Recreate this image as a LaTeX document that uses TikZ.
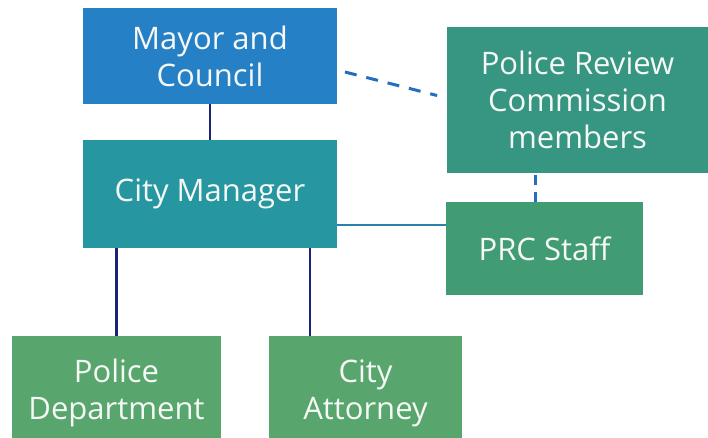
\documentclass[tikz,border=0pt]{standalone}
\usepackage{fontspec}
\setmainfont{Open Sans}
\begin{document}
\definecolor{mayorblue}{RGB}{38,128,198}
\definecolor{managerteal}{RGB}{38,150,160}
\definecolor{prcteal}{RGB}{55,150,130}
\definecolor{staffgreen}{RGB}{65,155,115}
\definecolor{deptgreen}{RGB}{88,166,110}
\definecolor{linknavy}{RGB}{25,35,120}
\definecolor{linkblue}{RGB}{35,110,190}
\definecolor{linkteal}{RGB}{40,130,170}
\definecolor{boxtext}{RGB}{245,248,245}
\begin{tikzpicture}[x=1pt,y=-1pt,
  orgbox/.style={rectangle, inner sep=0pt, text=boxtext, align=center,
    font=\fontsize{31}{37}\selectfont},
  solidlink/.style={draw=linknavy, line width=2.5pt},
  dashlink/.style={draw=linkblue, line width=3pt, dash pattern=on 12pt off 10pt}]
\useasboundingbox (0,0) rectangle (708,437);
\clip (0,0) rectangle (708,437);

\node[orgbox, fill=mayorblue, minimum width=254pt, minimum height=96pt]
  (mayor) at (210,56) {Mayor and\\Council};
\node[orgbox, fill=managerteal, minimum width=254pt, minimum height=108pt]
  (manager) at (210,194) {City Manager};
\node[orgbox, fill=prcteal, minimum width=261pt, minimum height=146pt]
  (prc) at (577.5,100) {Police Review\\Commission\\members};
\node[orgbox, fill=staffgreen, minimum width=197pt, minimum height=93pt]
  (staff) at (544.5,248.5) {PRC Staff};
\node[orgbox, fill=deptgreen, minimum width=209pt, minimum height=114pt]
  (police) at (116.5,393) {Police\\Department};
\node[orgbox, fill=deptgreen, minimum width=193pt, minimum height=114pt]
  (attorney) at (365.5,393) {City\\Attorney};

% reporting lines
\draw[solidlink] (mayor.south) -- (manager.north);
\draw[solidlink] (police.north |- manager.south) -- (police.north);
\draw[solidlink] ([xshift=-55.5pt]attorney.north |- manager.south)
  -- ([xshift=-55.5pt]attorney.north);
\coordinate (staffjoin) at ([yshift=-31pt]manager.east);
\draw[draw=linkteal, line width=2.5pt] (staffjoin) -- (staff.west |- staffjoin);
% commission links
\draw[dashlink, shorten <=8pt, shorten >=10pt] ([yshift=-14pt]mayor.east)
  -- ([yshift=2pt]prc.west);
\draw[dashlink, dash pattern=on 10pt off 7pt] ([xshift=-9.5pt]staff.north)
  -- ([xshift=-9.5pt]staff.north |- prc.south);
\end{tikzpicture}
\end{document}
